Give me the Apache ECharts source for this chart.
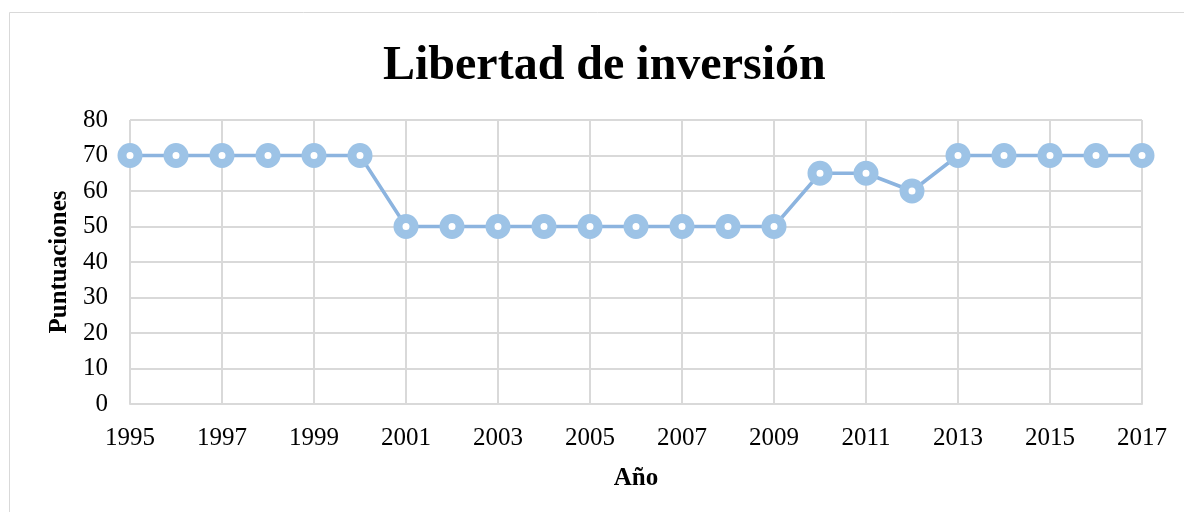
<!DOCTYPE html>
<html>
<head>
<meta charset="utf-8">
<script src="https://cdn.jsdelivr.net/npm/echarts@6/dist/echarts.min.js"></script>
<style>
html,body{margin:0;padding:0;background:#fff;}
#c{width:1184px;height:512px;}
</style>
</head>
<body>
<div id="c"></div>
<script>
const titleText = 'Libertad de inversión';
const xAxisName = 'Año';
const yAxisName = 'Puntuaciones';
const years = ['1995','1996','1997','1998','1999','2000','2001','2002','2003','2004','2005','2006','2007','2008','2009','2010','2011','2012','2013','2014','2015','2016','2017'];
const scores = [70,70,70,70,70,70,50,50,50,50,50,50,50,50,50,65,65,60,70,70,70,70,70];

const chart = echarts.init(document.getElementById('c'));
const serif = "'Liberation Serif', 'Times New Roman', serif";
chart.setOption({
  animation: false,
  backgroundColor: '#fff',
  graphic: [{
    type: 'rect',
    shape: {x: 9.5, y: 12.5, width: 1300, height: 600},
    style: {fill: 'none', stroke: '#d9d9d9', lineWidth: 1},
    silent: true, z: -1
  }],
  title: {
    text: titleText,
    left: 378,
    top: 38,
    textStyle: {fontFamily: serif, fontWeight: 'bold', fontSize: 48, color: '#000'}
  },
  grid: {left: 130, right: 42, top: 120, bottom: 108, containLabel: false},
  xAxis: {
    type: 'category',
    data: years,
    boundaryGap: false,
    name: xAxisName,
    nameLocation: 'middle',
    nameGap: 62,
    nameTextStyle: {fontFamily: serif, fontWeight: 'bold', fontSize: 25, color: '#000'},
    axisLine: {show: true, lineStyle: {color: '#d9d9d9', width: 2}},
    axisTick: {show: false},
    axisLabel: {interval: 1, fontFamily: serif, fontSize: 25, color: '#000', margin: 22},
    splitLine: {show: true, interval: 1, lineStyle: {color: '#d9d9d9', width: 2}}
  },
  yAxis: {
    type: 'value',
    min: 0, max: 80, interval: 10,
    name: yAxisName,
    nameLocation: 'middle',
    nameGap: 56,
    nameTextStyle: {fontFamily: serif, fontWeight: 'bold', fontSize: 25, color: '#000'},
    axisLine: {show: false},
    axisTick: {show: false},
    axisLabel: {fontFamily: serif, fontSize: 25, color: '#000', margin: 22},
    splitLine: {show: true, lineStyle: {color: '#d9d9d9', width: 2}}
  },
  series: [{
    type: 'line',
    data: scores,
    symbol: 'circle',
    symbolSize: 16,
    lineStyle: {color: '#8cb4df', width: 3.5},
    itemStyle: {color: '#ffffff', borderColor: '#9dc3e6', borderWidth: 9},
    emphasis: {disabled: true}
  }]
});
</script>
</body>
</html>
